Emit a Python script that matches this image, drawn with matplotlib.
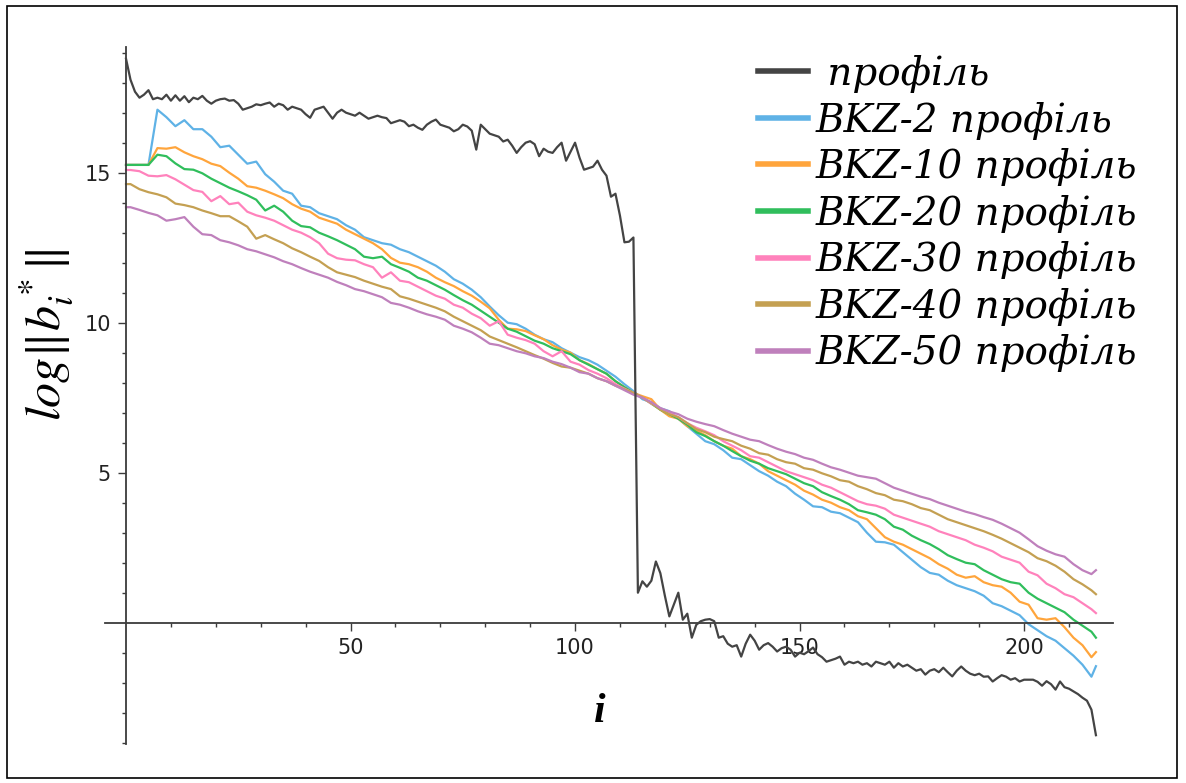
import matplotlib
matplotlib.use("Agg")
import matplotlib.pyplot as plt
from matplotlib.lines import Line2D
from matplotlib.patches import Rectangle
from matplotlib.ticker import FixedLocator

plt.rcParams['mathtext.fontset'] = 'stix'

# indices of the basis vectors
i_all = list(range(217))
i_bkz = [0] + list(range(1, 216, 2)) + [216]

# log ||b_i*|| of the starting basis (every index)
profile = [
    18.8, 18.1, 17.7, 17.5, 17.6, 17.75, 17.45, 17.5, 17.45, 17.6, 17.4, 17.58, 17.4, 17.55, 17.35,
    17.5, 17.45, 17.56, 17.4, 17.3, 17.4, 17.45, 17.47, 17.4, 17.42, 17.3, 17.1, 17.15, 17.2, 17.28,
    17.25, 17.3, 17.34, 17.2, 17.3, 17.25, 17.1, 17.2, 17.15, 17.1, 16.95, 16.83, 17.1, 17.15, 17.2,
    17.0, 16.8, 17.0, 17.1, 17.0, 16.95, 16.9, 17.0, 16.9, 16.8, 16.85, 16.9, 16.85, 16.82, 16.65,
    16.7, 16.75, 16.7, 16.55, 16.6, 16.5, 16.43, 16.6, 16.7, 16.77, 16.6, 16.55, 16.5, 16.38, 16.45,
    16.6, 16.54, 16.4, 15.77, 16.6, 16.45, 16.3, 16.25, 16.2, 16.04, 16.1, 15.9, 15.66, 15.85, 16.0,
    16.05, 15.95, 15.55, 15.8, 15.7, 15.66, 15.85, 16.0, 15.4, 15.7, 16.0, 15.5, 15.1, 15.15, 15.2,
    15.4, 15.1, 14.9, 14.2, 14.3, 13.57, 12.68, 12.7, 12.84, 1.0, 1.38, 1.2, 1.4, 2.04, 1.65,
    0.9, 0.21, 0.6, 1.0, 0.1, 0.3, -0.5, -0.07, 0.05, 0.1, 0.12, 0.05, -0.5, -0.45, -0.7,
    -0.8, -0.75, -1.13, -0.7, -0.4, -0.6, -0.9, -0.75, -0.68, -0.8, -0.96, -0.85, -0.8, -0.9, -1.13,
    -1.0, -1.05, -0.95, -0.83, -1.05, -1.15, -1.3, -1.25, -1.2, -1.13, -1.4, -1.3, -1.35, -1.3, -1.4,
    -1.35, -1.46, -1.3, -1.35, -1.4, -1.3, -1.5, -1.35, -1.46, -1.4, -1.5, -1.6, -1.55, -1.73, -1.6,
    -1.55, -1.65, -1.5, -1.65, -1.79, -1.6, -1.46, -1.6, -1.7, -1.75, -1.7, -1.8, -1.79, -1.96, -1.85,
    -1.75, -1.8, -1.9, -1.85, -1.96, -1.9, -1.9, -1.9, -1.97, -2.1, -1.95, -2.05, -2.23, -1.96, -2.15,
    -2.2, -2.29, -2.38, -2.5, -2.6, -2.9, -3.75,
]

# BKZ profiles (sampled at i_bkz)
bkz2 = [
    15.26,
    15.26, 15.26, 15.26, 17.1, 16.85, 16.55, 16.75, 16.45, 16.45, 16.2,
    15.85, 15.9, 15.6, 15.3, 15.37, 14.95, 14.7, 14.4, 14.3, 13.9,
    13.85, 13.65, 13.55, 13.45, 13.25, 13.1, 12.85, 12.75, 12.65, 12.6,
    12.45, 12.35, 12.2, 12.05, 11.9, 11.7, 11.45, 11.3, 11.1, 10.85,
    10.54, 10.25, 10.0, 9.95, 9.8, 9.6, 9.45, 9.35, 9.15, 9.0,
    8.85, 8.75, 8.6, 8.4, 8.2, 7.95, 7.72, 7.45, 7.35, 7.15,
    7.05, 6.8, 6.55, 6.3, 6.05, 5.95, 5.75, 5.5, 5.45, 5.25,
    5.05, 4.9, 4.7, 4.55, 4.3, 4.1, 3.88, 3.85, 3.7, 3.65,
    3.5, 3.35, 3.0, 2.7, 2.68, 2.6, 2.35, 2.1, 1.85, 1.66,
    1.6, 1.4, 1.25, 1.15, 1.05, 0.9, 0.65, 0.55, 0.4, 0.25,
    -0.05, -0.25, -0.45, -0.6, -0.85, -1.1, -1.4, -1.8, -1.45,
]
bkz10 = [
    15.26,
    15.26, 15.26, 15.26, 15.82, 15.8, 15.85, 15.68, 15.55, 15.45, 15.3,
    15.22, 15.0, 14.8, 14.55, 14.5, 14.4, 14.28, 14.15, 13.95, 13.8,
    13.7, 13.5, 13.4, 13.3, 13.1, 12.95, 12.8, 12.65, 12.45, 12.16,
    12.0, 11.95, 11.85, 11.7, 11.5, 11.35, 11.22, 11.05, 10.9, 10.7,
    10.48, 10.1, 9.8, 9.78, 9.72, 9.58, 9.45, 9.25, 9.1, 9.0,
    8.75, 8.62, 8.45, 8.3, 8.05, 7.85, 7.66, 7.55, 7.45, 7.1,
    6.88, 6.8, 6.55, 6.4, 6.25, 6.05, 5.9, 5.8, 5.55, 5.45,
    5.3, 5.05, 4.9, 4.75, 4.6, 4.4, 4.27, 4.1, 4.0, 3.85,
    3.75, 3.55, 3.45, 3.15, 2.85, 2.7, 2.6, 2.45, 2.3, 2.15,
    1.95, 1.8, 1.6, 1.5, 1.55, 1.35, 1.25, 1.2, 1.0, 0.7,
    0.6, 0.15, 0.1, 0.15, -0.15, -0.5, -0.75, -1.15, -0.98,
]
bkz20 = [
    15.26,
    15.26, 15.26, 15.26, 15.6, 15.55, 15.31, 15.12, 15.1, 14.98, 14.8,
    14.65, 14.5, 14.38, 14.25, 14.1, 13.74, 13.9, 13.7, 13.4, 13.22,
    13.18, 13.0, 12.88, 12.75, 12.6, 12.45, 12.2, 12.15, 12.2, 11.95,
    11.83, 11.7, 11.5, 11.4, 11.25, 11.1, 10.92, 10.75, 10.6, 10.4,
    10.2, 10.0, 9.8, 9.7, 9.55, 9.4, 9.3, 9.15, 9.05, 8.95,
    8.75, 8.6, 8.45, 8.3, 8.05, 7.85, 7.66, 7.5, 7.3, 7.1,
    6.95, 6.8, 6.6, 6.35, 6.22, 6.05, 5.9, 5.72, 5.55, 5.4,
    5.3, 5.15, 5.05, 4.95, 4.8, 4.65, 4.55, 4.35, 4.22, 4.1,
    3.95, 3.75, 3.68, 3.6, 3.45, 3.2, 3.1, 2.9, 2.75, 2.62,
    2.45, 2.25, 2.12, 2.0, 1.95, 1.75, 1.6, 1.45, 1.35, 1.3,
    1.0, 0.8, 0.65, 0.5, 0.35, 0.1, -0.1, -0.3, -0.5,
]
bkz30 = [
    15.09,
    15.09, 15.05, 14.9, 14.88, 14.92, 14.78, 14.6, 14.42, 14.36, 14.05,
    14.22, 13.95, 14.0, 13.7, 13.58, 13.5, 13.4, 13.25, 13.1, 13.0,
    12.85, 12.65, 12.3, 12.15, 12.1, 12.08, 11.95, 11.85, 11.5, 11.68,
    11.4, 11.35, 11.2, 11.05, 10.9, 10.8, 10.6, 10.5, 10.3, 10.15,
    9.9, 10.05, 9.6, 9.5, 9.42, 9.3, 9.05, 8.88, 9.05, 8.7,
    8.6, 8.42, 8.3, 8.15, 7.95, 7.8, 7.66, 7.5, 7.3, 7.15,
    7.0, 6.85, 6.65, 6.5, 6.38, 6.25, 6.05, 5.9, 5.75, 5.55,
    5.5, 5.35, 5.2, 5.05, 4.95, 4.85, 4.75, 4.6, 4.5, 4.35,
    4.2, 4.05, 3.95, 3.9, 3.8, 3.6, 3.5, 3.4, 3.3, 3.2,
    3.05, 2.95, 2.85, 2.75, 2.6, 2.5, 2.38, 2.2, 2.1, 2.0,
    1.7, 1.58, 1.3, 1.15, 0.95, 0.85, 0.65, 0.45, 0.32,
]
bkz40 = [
    14.62,
    14.62, 14.45, 14.35, 14.28, 14.18, 13.97, 13.92, 13.85, 13.74, 13.65,
    13.55, 13.55, 13.38, 13.2, 12.8, 12.92, 12.78, 12.65, 12.48, 12.35,
    12.2, 12.06, 11.85, 11.68, 11.6, 11.52, 11.4, 11.3, 11.2, 11.12,
    10.88, 10.8, 10.7, 10.6, 10.5, 10.38, 10.2, 10.05, 9.9, 9.75,
    9.54, 9.42, 9.3, 9.18, 9.05, 8.92, 8.8, 8.66, 8.54, 8.5,
    8.4, 8.3, 8.15, 8.05, 7.9, 7.78, 7.66, 7.5, 7.32, 7.1,
    6.95, 6.85, 6.65, 6.45, 6.35, 6.2, 6.12, 6.05, 5.9, 5.8,
    5.65, 5.6, 5.45, 5.35, 5.3, 5.15, 5.1, 4.98, 4.88, 4.75,
    4.7, 4.55, 4.45, 4.32, 4.25, 4.1, 4.05, 3.95, 3.82, 3.75,
    3.6, 3.45, 3.35, 3.25, 3.15, 3.05, 2.93, 2.8, 2.65, 2.5,
    2.35, 2.15, 2.05, 1.9, 1.7, 1.45, 1.28, 1.08, 0.95,
]
bkz50 = [
    13.85,
    13.85, 13.76, 13.66, 13.58, 13.4, 13.45, 13.52, 13.2, 12.95, 12.92,
    12.75, 12.68, 12.58, 12.45, 12.38, 12.28, 12.18, 12.05, 11.95, 11.82,
    11.7, 11.6, 11.5, 11.36, 11.25, 11.12, 11.05, 10.95, 10.85, 10.66,
    10.6, 10.5, 10.38, 10.28, 10.2, 10.1, 9.9, 9.8, 9.68, 9.5,
    9.3, 9.25, 9.15, 9.05, 8.98, 8.88, 8.82, 8.7, 8.62, 8.5,
    8.35, 8.3, 8.15, 8.05, 7.9, 7.75, 7.6, 7.5, 7.35, 7.15,
    7.04, 6.95, 6.8, 6.7, 6.62, 6.55, 6.42, 6.3, 6.2, 6.1,
    6.05, 5.92, 5.8, 5.7, 5.62, 5.5, 5.43, 5.3, 5.18, 5.1,
    5.0, 4.9, 4.85, 4.8, 4.65, 4.5, 4.4, 4.3, 4.2, 4.12,
    4.0, 3.9, 3.8, 3.7, 3.62, 3.52, 3.43, 3.3, 3.15, 3.0,
    2.78, 2.55, 2.4, 2.28, 2.2, 1.95, 1.75, 1.62, 1.75,
]

labels = [' профіль', 'BKZ-2 профіль', 'BKZ-10 профіль', 'BKZ-20 профіль',
          'BKZ-30 профіль', 'BKZ-40 профіль', 'BKZ-50 профіль']
colors = ['#444444', '#5fb2e6', '#ffa53c', '#30be5c', '#ff82bc', '#c4a052', '#bf80bc']

W, H = 1186, 783
fig = plt.figure(figsize=(W / 100, H / 100), dpi=100)
ax = fig.add_axes([104.9 / W, 1 - 744.2 / H, (1113 - 104.9) / W, (744.2 - 46.7) / H])

for ys, c in zip([bkz2, bkz10, bkz20, bkz30, bkz40, bkz50], colors[1:]):
    ax.plot(i_bkz, ys, color=c, lw=1.6)
ax.plot(i_all, profile, color=colors[0], lw=1.6, zorder=3)

ax.set_xlim(-4.7, 219.8)
ax.set_ylim(-4.05, 19.2)

# sage-like axes crossing at the origin
ax.spines['left'].set_position(('data', 0))
ax.spines['bottom'].set_position(('data', 0))
ax.spines['top'].set_visible(False)
ax.spines['right'].set_visible(False)
for s in ['left', 'bottom']:
    ax.spines[s].set_color('#3c3c3c')
    ax.spines[s].set_linewidth(1.3)

ax.xaxis.set_major_locator(FixedLocator([50, 100, 150, 200]))
ax.xaxis.set_minor_locator(FixedLocator([t for t in range(10, 220, 10) if t % 50 != 0]))
ax.yaxis.set_major_locator(FixedLocator([5, 10, 15]))
ax.yaxis.set_minor_locator(FixedLocator([t for t in range(-4, 20) if t % 5 != 0]))
ax.tick_params(which='major', length=6, width=1, color='#3c3c3c',
               labelsize=15, labelcolor='#222222')
ax.tick_params(which='minor', length=3, width=1, color='#3c3c3c')
ax.tick_params(axis='x', pad=5)
ax.tick_params(axis='y', pad=5)

fig.text(46 / W, 1 - 335 / H, r'$log\Vert b_i^*\Vert$', rotation=90,
         ha='center', va='center', fontsize=36)
fig.text(600 / W, 1 - 712 / H, 'i', family='Liberation Serif', weight='bold',
         style='italic', fontsize=30, ha='center', va='center')

handles = [Line2D([], [], color=c, lw=4) for c in colors]
fig.legend(handles, labels, loc='upper left', bbox_to_anchor=(758 / W, 1 - 55 / H),
           bbox_transform=fig.transFigure, frameon=False,
           prop={'family': 'DejaVu Serif', 'style': 'italic', 'size': 28},
           handlelength=1.29, handletextpad=0.18, labelspacing=0.22,
           borderpad=0, borderaxespad=0)

fig.add_artist(Rectangle((7 / W, 1 - 778 / H), (1177 - 7) / W, (778 - 6) / H,
                         transform=fig.transFigure, fill=False,
                         edgecolor='black', lw=1.2))

fig.savefig('out.png', dpi=100)
